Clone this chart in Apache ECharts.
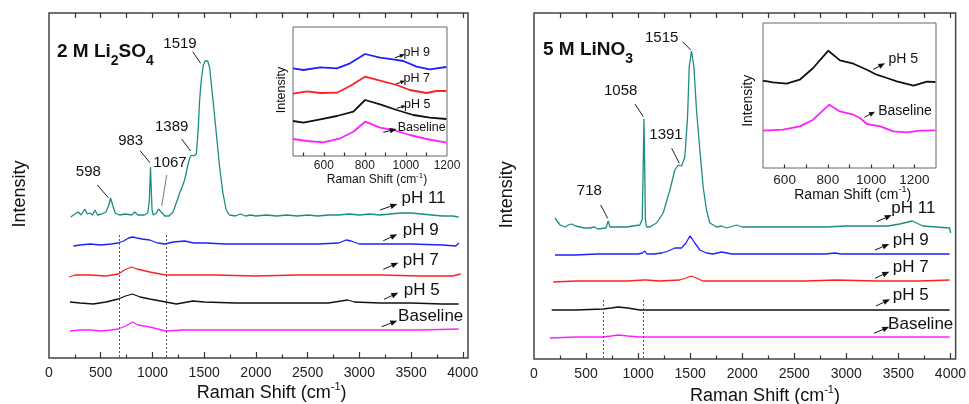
<!DOCTYPE html>
<html>
<head>
<meta charset="utf-8">
<script src="https://cdn.jsdelivr.net/npm/echarts@6/dist/echarts.min.js"></script>
<style>html,body{margin:0;background:#fff}#main{width:969px;height:404px}</style>
</head>
<body>
<div id="main"></div>
<script>
// Raman shift (cm-1), intensity (a.u., offset traces)
var so4_pH11 = [[210,141],[250,144],[283,146],[310,143],[347,149],[370,144],[395,145],[420,143],[444,148],[470,143],[510,144],[550,146],[575,152],[595,160],[615,153],[640,145],[680,143],[740,144],[800,143],[829,146],[860,143],[920,143],[955,145],[970,158],[981,191],[988,170],[996,148],[1008,143],[1040,145],[1058,149],[1070,151],[1085,146],[1119,142],[1160,142],[1199,146],[1240,158],[1263,165],[1290,172],[1311,178],[1340,192],[1360,200],[1376,203],[1400,202],[1424,204],[1440,225],[1456,258],[1472,278],[1490,292],[1508,297],[1521,299],[1534,297],[1552,291],[1585,258],[1617,225],[1649,191],[1681,165],[1713,148],[1745,143],[1800,142],[1850,144],[1900,142],[1950,143],[2000,142],[2100,143],[2200,142],[2300,143],[2400,142],[2500,143],[2600,142],[2700,143],[2800,143],[2900,144],[3000,143],[3100,144],[3200,143],[3300,144],[3400,145],[3500,145],[3600,144],[3700,143],[3800,142],[3900,142],[3960,141]];
var so4_pH9 = [[235,112],[300,113],[400,114],[500,113],[600,114],[669,115],[720,117],[770,120],[807,121],[850,120],[900,119],[974,118],[1050,115],[1119,114],[1200,116],[1311,117],[1400,115],[1521,115],[1700,114],[2000,114],[2300,114],[2600,114],[2800,115],[2871,118],[2920,117],[2999,114],[3200,114],[3500,114],[3800,113],[3932,112],[3963,115]];
var so4_pH7 = [[196,81],[250,83],[400,83],[550,82],[669,84],[730,88],[797,91],[850,89],[974,86],[1128,83],[1300,83],[1600,83],[2000,82],[2400,83],[2800,83],[3200,83],[3600,82],[3900,82],[3980,84]];
var so4_pH5 = [[203,56],[300,55],[427,54],[550,56],[669,59],[740,62],[807,64],[880,61],[974,59],[1128,56],[1231,54],[1392,57],[1500,56],[1800,55],[2100,55],[2400,55],[2700,55],[2887,58],[2950,56],[3200,55],[3500,55],[3800,54],[3960,54]];
var so4_base = [[203,27],[300,28],[400,28],[500,27],[600,28],[669,29],[740,32],[807,36],[860,33],[974,31],[1128,27],[1300,28],[1600,28],[2000,28],[2400,28],[2800,28],[3200,28],[3600,28],[3960,29]];

var no3_pH11 = [[202,141],[215,139],[250,134],[298,132],[330,134],[362,135],[400,133],[441,132],[480,131],[537,131],[580,132],[617,130],[690,131],[713,138],[730,132],[746,131],[800,132],[890,132],[950,133],[1017,134],[1040,140],[1050,200],[1056,240],[1062,200],[1070,140],[1081,132],[1113,132],[1177,136],[1241,146],[1305,169],[1353,189],[1385,194],[1417,193],[1449,202],[1475,242],[1491,292],[1513,308],[1536,292],[1561,249],[1593,209],[1625,172],[1657,149],[1689,136],[1753,132],[1800,133],[1850,131],[1945,134],[2000,132],[2200,132],[2400,132],[2600,132],[2800,132],[3000,133],[3200,133],[3400,133],[3512,135],[3634,138],[3736,133],[3864,132],[3992,131],[4002,126]];
var no3_pH9 = [[202,104],[400,104],[600,105],[800,105],[1000,105],[1040,106],[1065,108],[1085,105],[1150,105],[1230,106],[1289,108],[1353,111],[1417,111],[1460,116],[1497,123],[1520,120],[1545,116],[1593,109],[1657,106],[1720,105],[1801,107],[1900,105],[2200,105],[2500,105],[2800,105],[2889,106],[2950,105],[3300,105],[3700,105],[3992,105]];
var no3_pH7 = [[185,77],[400,78],[700,78],[900,78],[1050,79],[1080,79],[1200,78],[1400,79],[1460,81],[1513,83],[1560,81],[1620,78],[1800,78],[2200,78],[2600,78],[2900,79],[3300,78],[3700,78],[3992,79]];
var no3_pH5 = [[170,49],[400,49],[665,50],[740,51],[809,52],[900,51],[1017,49],[1300,49],[1700,49],[2100,49],[2500,49],[2900,49],[3300,49],[3700,49],[3992,49]];
var no3_base = [[154,21],[400,22],[665,22],[740,23],[809,24],[900,23],[1017,22],[1300,22],[1700,22],[2100,22],[2500,22],[2900,22],[3300,22],[3700,22],[3992,22]];

// insets (zoom 450-1300 cm-1)
var so4_in_pH9 = [[450,87.7],[501,86],[583,88.7],[664,87.7],[728,92.7],[801,102],[874,98.3],[938,96.7],[987,95],[1052,89.3],[1116,86.7],[1197,89]];
var so4_in_pH7 = [[450,62.3],[518,64.7],[583,63],[664,63.3],[728,70],[801,79.3],[874,75.3],[955,71],[1019,66],[1100,63],[1149,65],[1197,65]];
var so4_in_pH5 = [[450,35],[501,33.3],[583,36.7],[664,40],[744,44.3],[801,56],[874,51.7],[955,46],[1036,41],[1116,38.3],[1197,37]];
var so4_in_base = [[450,17],[518,15],[599,13.7],[680,17.7],[744,24.3],[801,34.3],[874,28.3],[938,26],[1019,21],[1100,17],[1197,13.3]];
var no3_in_pH5 = [[500,87.3],[546,85.6],[609,84.3],[670,88.3],[732,100],[802,117.3],[856,107.6],[918,104.3],[980,98.3],[1026,93.3],[1073,90],[1119,86.6],[1196,82.3],[1258,86.3],[1297,86]];
var no3_in_base = [[500,37.3],[593,38.3],[670,41.6],[732,48.3],[806,63.3],[856,56.6],[918,53.3],[949,50],[980,44],[1042,41.6],[1103,36.6],[1165,35.6],[1227,37.3],[1297,37.6]];

// ticks and tick labels
var mainLabels = [0,500,1000,1500,2000,2500,3000,3500,4000];
var mainMajor = [500,1000,1500,2000,2500,3000,3500,4000];
var mainMinor = [250,750,1250,1750,2250,2750,3250,3750];
var mainTop = [250,500,750,1000,1250,1500,1750,2000,2250,2500,2750,3000,3250,3500,3750,4000];
var so4InsetLabels = [600,800,1000,1200];
var so4InsetTicks = [500,600,700,800,900,1000,1100];
var no3InsetLabels = [600,800,1000,1200];
var no3InsetTicks = [600,700,800,900,1000,1100,1200];

var FONT = 'Liberation Sans, Arial, sans-serif';
var TEAL = '#1e8c82', BLUE = '#2020ff', RED = '#ff2020', BLACK = '#111', MAG = '#ff20ff';

function xAx(grid, min, max, labels, fs, margin) {
    return {
        type: 'value', gridIndex: grid, min: min, max: max,
        axisLine: {show: false, onZero: false}, splitLine: {show: false}, axisTick: {show: false},
        axisLabel: {show: true, customValues: labels, fontFamily: FONT, fontSize: fs, color: '#222', margin: margin,
                    formatter: function (v) { return String(v); }}
    };
}
function yAx(grid, max) {
    return {type: 'value', gridIndex: grid, min: 0, max: max, axisLine: {show: false}, axisTick: {show: false},
            axisLabel: {show: false}, splitLine: {show: false}};
}
function trace(data, color, xi, yi, w) {
    return {type: 'line', data: data, xAxisIndex: xi, yAxisIndex: yi, symbol: 'none', silent: true,
            lineStyle: {color: color, width: w}, itemStyle: {color: color}, z: 3};
}
function dotted(xs, top) {
    return {symbol: ['none', 'none'], silent: true, label: {show: false},
            lineStyle: {type: [2, 2], color: '#555', width: 1},
            data: xs.map(function (x) { return [{coord: [x, top]}, {coord: [x, 0]}]; })};
}
// inward tick marks drawn along the frame (y units = px in these grids)
function ticks(groups) {
    var data = [];
    groups.forEach(function (g) {
        g.values.forEach(function (v) { data.push([{coord: [v, g.from]}, {coord: [v, g.to]}]); });
    });
    return {symbol: ['none', 'none'], silent: true, label: {show: false},
            lineStyle: {type: 'solid', color: '#333', width: 1.2}, data: data};
}

var sBase1 = trace(so4_base, MAG, 0, 0, 1.3);
sBase1.markLine = dotted([675, 1130], 123);
var sPh5a = trace(so4_pH5, BLACK, 0, 0, 1.3);
sPh5a.markLine = ticks([{values: mainMajor, from: 0, to: 6}, {values: mainMinor, from: 0, to: 3.5}, {values: mainTop, from: 345, to: 340}]);
var sBase2 = trace(no3_base, MAG, 2, 2, 1.3);
sBase2.markLine = dotted([665, 1045], 59);
var sPh5b = trace(no3_pH5, BLACK, 2, 2, 1.3);
sPh5b.markLine = ticks([{values: mainMajor, from: 0, to: 6}, {values: mainMinor, from: 0, to: 3.5}, {values: mainTop, from: 346, to: 341}]);
var sIn1 = trace(so4_in_base, MAG, 1, 1, 1.8);
sIn1.markLine = ticks([{values: so4InsetTicks, from: 0, to: 3.5}]);
var sIn2 = trace(no3_in_base, MAG, 3, 3, 1.8);
sIn2.markLine = ticks([{values: no3InsetTicks, from: 0, to: 3.5}]);

// annotation layout (pixels)
var peakLabels = [['1519',180,43.5],['1389',171.7,127.3],['983',130.7,140.7],['1067',170,163.3],['598',88.3,172.3],
                  ['1515',661.7,37.5],['1058',620.7,90.7],['1391',666,135],['718',589.3,191]];
var leaders = [[192.7,51.7,200.7,63.3],[181.7,139,190.7,151],[140,150.7,150,162.7],[166.7,175,161.7,206,'#777'],[97.3,185,108.3,197.7],
               [682.7,41.7,690.7,50],[635,104,643.3,116.7],[671.7,148.3,679.3,163.3],[600.7,205,607.7,218.3]];
var phLabels = [['pH 11',423.5,198.3,17],['pH 9',420.7,230,17],['pH 7',420.7,260,17],['pH 5',421.7,290.7,17],['Baseline',430.7,316.7,17],
                ['pH 11',913.3,208.3,17],['pH 9',910.7,240,17],['pH 7',910.7,267.3,17],['pH 5',910.7,295,17],['Baseline',920.7,324,17],
                ['pH 9',416.7,52.3,12.5],['pH 7',416.7,78.3,12.5],['pH 5',417.3,104.3,12.5],['Baseline',421.7,127.7,12.5],
                ['pH 5',903.3,59.3,14],['Baseline',905,110.7,14]];
var arrows = [[380,210,397.3,204],[383.3,240.7,397.3,234.3],[383.3,269.3,398.3,262.7],[384,299.3,398.3,292.7],[381.7,326.7,397.3,320.7],
              [876.7,221.7,891.7,215],[875,250,889.3,244],[875,278.3,889.3,271.7],[876,306,890,299.3],[874,333.3,889.3,326.7],
              [395,57.7,405,54.3],[396,84,405,80.7],[396.7,108.3,406,105.7],[383.3,132.3,396.7,129],
              [873.3,69.3,885,63.3],[864.3,117.3,875,111.7]];

function txt(x, y, text, size, extra) {
    var st = {text: text, x: 0, y: 0, fontFamily: FONT, fontSize: size, fill: '#111',
              align: 'center', verticalAlign: 'middle', textAlign: 'center', textVerticalAlign: 'middle'};
    for (var k in extra) st[k] = extra[k];
    return {type: 'text', x: x, y: y, style: st, z: 10};
}
function arrowEls(a) {
    var dx = a[2] - a[0], dy = a[3] - a[1], L = Math.sqrt(dx * dx + dy * dy), ux = dx / L, uy = dy / L;
    var hl = Math.min(7, L * 0.5), hw = hl * 0.4;
    var bx = a[2] - ux * hl, by = a[3] - uy * hl;
    return [{type: 'line', shape: {x1: a[0], y1: a[1], x2: bx, y2: by}, style: {stroke: '#111', lineWidth: 1}, z: 10},
            {type: 'polygon', shape: {points: [[a[2], a[3]], [bx - uy * hw, by + ux * hw], [bx + uy * hw, by - ux * hw]]}, style: {fill: '#111'}, z: 10}];
}
function shiftName(x, y, fs, sfs, pad) {
    return txt(x, y, '{n|Raman Shift (cm}{s|-1}{n|)}', fs, {rich: {
        n: {fontFamily: FONT, fontSize: fs, fill: '#111', lineHeight: fs + 2, verticalAlign: 'bottom'},
        s: {fontFamily: FONT, fontSize: sfs, fill: '#111', lineHeight: sfs, padding: [0, 0, pad, 0], verticalAlign: 'bottom'}}});
}
function titleEl(x, y, main1, sub1, main2, sub2) {
    var t = '{m|' + main1 + '}{s|' + sub1 + '}' + (main2 ? '{m|' + main2 + '}{s|' + sub2 + '}' : '');
    return txt(x, y, t, 19, {align: 'left', textAlign: 'left', rich: {
        m: {fontFamily: FONT, fontSize: 19, fontWeight: 'bold', fill: '#111', lineHeight: 20, verticalAlign: 'top'},
        s: {fontFamily: FONT, fontSize: 14, fontWeight: 'bold', fill: '#111', lineHeight: 14, padding: [12, 0, 0, 0], verticalAlign: 'top'}}});
}

var graphics = [];
peakLabels.forEach(function (p) { graphics.push(txt(p[1], p[2], p[0], 15)); });
phLabels.forEach(function (p) { graphics.push(txt(p[1], p[2], p[0], p[3])); });
leaders.forEach(function (l) {
    graphics.push({type: 'line', shape: {x1: l[0], y1: l[1], x2: l[2], y2: l[3]}, style: {stroke: l[4] || '#222', lineWidth: 1}, z: 10});
});
arrows.forEach(function (a) { graphics = graphics.concat(arrowEls(a)); });
graphics.push(titleEl(57, 52, '2 M Li', '2', 'SO', '4'));
graphics.push(titleEl(543, 50.5, '5 M LiNO', '3'));
graphics.push(shiftName(271.7, 392, 18, 11, 10));
graphics.push(shiftName(765, 395, 18, 11, 10));
graphics.push(shiftName(377, 179, 12, 8, 6));
graphics.push(shiftName(852.7, 194, 14, 9, 8));
[[19.7, 194, 18], [507.5, 194.7, 18], [282, 90, 12.5], [748, 100.8, 14]].forEach(function (p) {
    var e = txt(p[0], p[1], 'Intensity', p[2]);
    e.rotation = Math.PI / 2;
    graphics.push(e);
});

var myChart = echarts.init(document.getElementById('main'));
var option = {
    animation: false,
    backgroundColor: '#fff',
    grid: [
        {left: 49, top: 13, width: 419, height: 345, show: true, borderColor: '#444', borderWidth: 1.5},
        {left: 293, top: 27, width: 154, height: 129, show: true, borderColor: '#666', borderWidth: 1},
        {left: 534, top: 13, width: 422, height: 346, show: true, borderColor: '#444', borderWidth: 1.5},
        {left: 763, top: 23, width: 173, height: 145, show: true, borderColor: '#666', borderWidth: 1}
    ],
    xAxis: [
        xAx(0, 0, 4050, mainLabels, 14, 8),
        xAx(1, 450, 1200, so4InsetLabels, 12, 4),
        xAx(2, 0, 4050, mainLabels, 14, 8),
        xAx(3, 500, 1300, no3InsetLabels, 13.5, 5)
    ],
    yAxis: [yAx(0, 345), yAx(1, 129), yAx(2, 346), yAx(3, 145)],
    series: [
        trace(so4_pH11, TEAL, 0, 0, 1.3), trace(so4_pH9, BLUE, 0, 0, 1.3), trace(so4_pH7, RED, 0, 0, 1.3),
        sPh5a, sBase1,
        trace(so4_in_pH9, BLUE, 1, 1, 1.8), trace(so4_in_pH7, RED, 1, 1, 1.8),
        trace(so4_in_pH5, BLACK, 1, 1, 1.8), sIn1,
        trace(no3_pH11, TEAL, 2, 2, 1.3), trace(no3_pH9, BLUE, 2, 2, 1.3), trace(no3_pH7, RED, 2, 2, 1.3),
        sPh5b, sBase2,
        trace(no3_in_pH5, BLACK, 3, 3, 1.8), sIn2
    ],
    graphic: graphics
};
myChart.setOption(option);
window.onresize = function () { myChart.resize(); };
</script>
</body>
</html>
